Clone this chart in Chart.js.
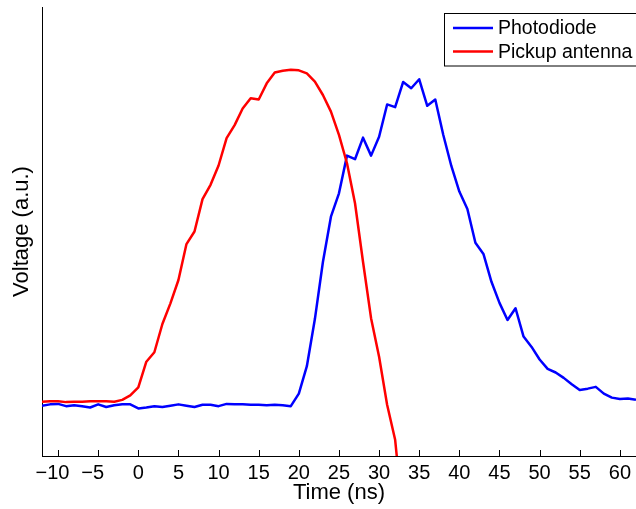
<!DOCTYPE html>
<html>
<head>
<meta charset="utf-8">
<script src="https://cdn.jsdelivr.net/npm/chart.js@4.4.1/dist/chart.umd.min.js"></script>
<style>
  html, body { margin: 0; padding: 0; background: #fff; overflow: hidden; }
  canvas { display: block; }
</style>
</head>
<body>
<canvas id="c" width="636" height="509"></canvas>
<script>
// ---- data ----
const timeNs = [-12,-11,-10,-9,-8,-7,-6,-5,-4,-3,-2,-1,0,1,2,3,4,5,6,7,8,9,10,11,12,13,14,15,16,17,18,19,20,21,22,23,24,25,26,27,28,29,30,31,32,33,34,35,36,37,38,39,40,41,42,43,44,45,46,47,48,49,50,51,52,53,54,55,56,57,58,59,60,61,62];
const photodiode = [0.112,0.115,0.116,0.111,0.113,0.111,0.108,0.115,0.109,0.113,0.115,0.115,0.106,0.108,0.111,0.109,0.112,0.115,0.112,0.109,0.114,0.114,0.111,0.116,0.115,0.115,0.114,0.114,0.113,0.114,0.113,0.111,0.139,0.200,0.305,0.432,0.533,0.585,0.669,0.661,0.709,0.669,0.711,0.783,0.777,0.833,0.819,0.839,0.780,0.794,0.715,0.646,0.589,0.550,0.475,0.450,0.388,0.341,0.303,0.329,0.266,0.243,0.215,0.194,0.186,0.174,0.160,0.147,0.150,0.154,0.139,0.130,0.127,0.128,0.125];
const antennaTimeNs = [-12,-11,-10,-9,-8,-7,-6,-5,-4,-3,-2,-1,0,1,2,3,4,5,6,7,8,9,10,11,12,13,14,15,16,17,18,19,20,21,22,23,24,25,26,27,28,29,30,31,32,33];
const pickupAntenna = [0.121,0.122,0.122,0.120,0.121,0.121,0.122,0.122,0.122,0.121,0.125,0.135,0.153,0.210,0.231,0.294,0.340,0.392,0.472,0.500,0.572,0.604,0.647,0.708,0.737,0.774,0.797,0.794,0.830,0.854,0.858,0.860,0.859,0.852,0.834,0.804,0.767,0.715,0.652,0.563,0.432,0.307,0.221,0.114,0.036,-0.143];
const xTickValues = [-10,-5,0,5,10,15,20,25,30,35,40,45,50,55,60];
const seriesNames = ['Photodiode', 'Pickup antenna'];
const seriesColors = ['#0000ff', '#ff0000'];

const FONT = 'Liberation Sans, Arial, Helvetica, sans-serif';

const toPoints = (xs, ys) => xs.map((x, i) => ({ x: x, y: ys[i] }));

// inward tick marks on the bottom axis
const insideTicks = {
  id: 'insideTicks',
  afterDraw(chart) {
    const ctx = chart.ctx, xs = chart.scales.x, a = chart.chartArea;
    ctx.save();
    ctx.strokeStyle = '#000';
    ctx.lineWidth = 1;
    ctx.beginPath();
    xTickValues.forEach(v => {
      const px = Math.round(xs.getPixelForValue(v)) + 0.5;
      ctx.moveTo(px, a.bottom);
      ctx.lineTo(px, a.bottom - 6);
    });
    ctx.stroke();
    ctx.restore();
  }
};

// boxed legend in the top right corner of the axes
const boxLegend = {
  id: 'boxLegend',
  afterDraw(chart) {
    const ctx = chart.ctx;
    const left = 444.5, top = 13.5, right = 660, rowH = 23.5, firstY = 28;
    ctx.save();
    ctx.fillStyle = '#fff';
    ctx.fillRect(left, top, right - left, 52.5);
    ctx.strokeStyle = '#000';
    ctx.lineWidth = 1;
    ctx.strokeRect(left, top, right - left, 52.5);
    ctx.font = '19.5px ' + FONT;
    ctx.textBaseline = 'middle';
    ctx.textAlign = 'left';
    chart.data.datasets.forEach((ds, i) => {
      const y = firstY + i * rowH;
      ctx.strokeStyle = ds.borderColor;
      ctx.lineWidth = 2.5;
      ctx.beginPath();
      ctx.moveTo(453, y);
      ctx.lineTo(493, y);
      ctx.stroke();
      ctx.fillStyle = '#000';
      ctx.fillText(ds.label, 498, y + 1);
    });
    ctx.restore();
  }
};

new Chart(document.getElementById('c'), {
  type: 'line',
  data: {
    datasets: [
      { label: seriesNames[0], data: toPoints(timeNs, photodiode), borderColor: seriesColors[0], backgroundColor: seriesColors[0],
        borderWidth: 2.5, pointRadius: 0, tension: 0, fill: false, order: 1, borderJoinStyle: 'round' },
      { label: seriesNames[1], data: toPoints(antennaTimeNs, pickupAntenna), borderColor: seriesColors[1], backgroundColor: seriesColors[1],
        borderWidth: 2.5, pointRadius: 0, tension: 0, fill: false, order: 0, borderJoinStyle: 'round' }
    ]
  },
  options: {
    responsive: false,
    animation: false,
    devicePixelRatio: 1,
    layout: { padding: { top: 7, right: 0, left: 0, bottom: 0 } },
    plugins: { legend: { display: false }, tooltip: { enabled: false } },
    scales: {
      x: {
        type: 'linear', min: -12, max: 62,
        afterBuildTicks: s => { s.ticks = xTickValues.map(v => ({ value: v })); },
        afterFit: s => { s.height = 53; },
        grid: { display: false, drawTicks: false },
        border: { display: true, color: '#000', width: 1 },
        ticks: {
          autoSkip: false, maxRotation: 0, padding: 5, color: '#000',
          font: { family: FONT, size: 20 },
          callback: v => (v < 0 ? '\u2212' + Math.abs(v) + '  ' : String(v))
        },
        title: { display: true, text: 'Time (ns)', color: '#000', font: { family: FONT, size: 22 }, padding: { top: 0, bottom: 3 } }
      },
      y: {
        min: 0, max: 1,
        afterFit: s => { s.width = 42; },
        grid: { display: false, drawTicks: false },
        border: { display: true, color: '#000', width: 1 },
        ticks: { display: false },
        title: { display: true, text: 'Voltage (a.u.)', color: '#000', font: { family: FONT, size: 22 }, padding: { top: 9, bottom: 0 } }
      }
    }
  },
  plugins: [insideTicks, boxLegend]
});
</script>
</body>
</html>
